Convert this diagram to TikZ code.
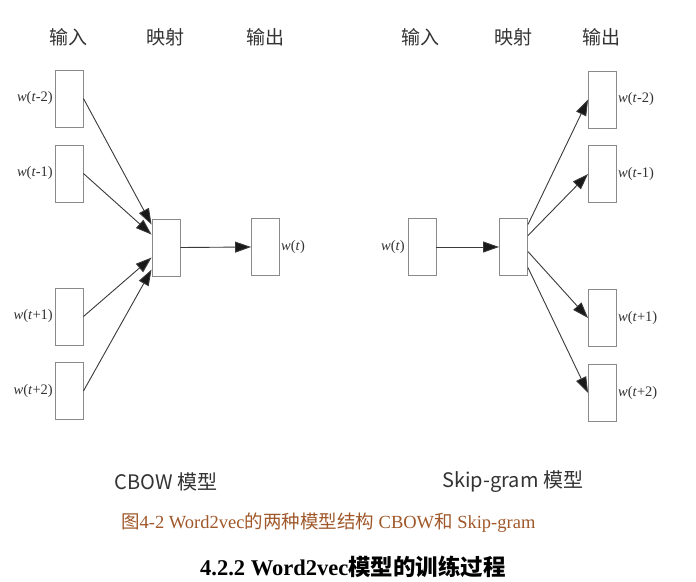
\documentclass[tikz,border=0pt]{standalone}
\usepackage{fontspec}
\setmainfont{Liberation Serif}
\newfontfamily\cjk{Noto Sans CJK SC}
\usetikzlibrary{arrows.meta}
\definecolor{boxc}{HTML}{8A8A8A}
\definecolor{linec}{HTML}{3A3A3A}
\definecolor{capc}{HTML}{A0582A}
\tikzset{
  wbox/.style={draw=boxc, line width=0.9pt, minimum width=28pt, minimum height=57pt, inner sep=0pt},
  arr/.style={draw=linec, line width=0.9pt, -{Triangle[length=16pt,width=11pt,fill=black!90]}},
  hdr/.style={font=\cjk\fontsize{19}{19}\selectfont, text=black!80},
  wlab/.style={font=\fontsize{14.5}{15}\selectfont, text=black!80, inner sep=1pt},
  model/.style={font=\cjk\fontsize{20}{20}\selectfont, text=black!80},
}
\newcommand{\wl}[1]{\textit{w}(\textit{t}#1)}
\begin{document}
\begin{tikzpicture}[x=1pt,y=-1pt]
\useasboundingbox (0,0) rectangle (696,581);
\fill[white] (0,0) rectangle (696,581);
% headers
\node[hdr] (h1) at (68,37) {输入};
\node[hdr] (h2) at (165,37) {映射};
\node[hdr] (h3) at (265,37) {输出};
\node[hdr] (h4) at (420,37) {输入};
\node[hdr] (h5) at (513,37) {映射};
\node[hdr] (h6) at (601,37) {输出};
% CBOW
\node[wbox] (i1) at (69,98.5) {};
\node[wbox] (i2) at (69,173.5) {};
\node[wbox] (i3) at (69,316.5) {};
\node[wbox] (i4) at (69,391) {};
\node[wbox] (m1) at (166,247.5) {};
\node[wbox] (o1) at (265.5,247) {};
\node[wlab, anchor=east] (li1) at (54,98.5) {\wl{-2}};
\node[wlab, anchor=east] (li2) at (54,173.5) {\wl{-1}};
\node[wlab, anchor=east] (li3) at (54,316.5) {\wl{+1}};
\node[wlab, anchor=east] (li4) at (54,391) {\wl{+2}};
\node[wlab, anchor=west] (lo1) at (280,247) {\wl{}};
\draw[arr] (i1.east) -- ([yshift=-6pt]m1.north west);
\draw[arr] (i2.east) -- ([yshift=-16pt]m1.north west);
\draw[arr] (i3.east) -- ([yshift=-39pt]m1.north west);
\draw[arr] (i4.east) -- ([yshift=-51pt]m1.north west);
\draw[arr] (m1.east) -- (o1.west);
% Skip-gram
\node[wbox] (ri) at (422,247) {};
\node[wbox] (rm) at (513.5,247) {};
\node[wbox] (ro1) at (602.5,99.5) {};
\node[wbox] (ro2) at (602.5,174) {};
\node[wbox] (ro3) at (602.5,318) {};
\node[wbox] (ro4) at (602.5,393) {};
\node[wlab, anchor=east] (lri) at (406,247) {\wl{}};
\node[wlab, anchor=west] (lro1) at (617,99.5) {\wl{-2}};
\node[wlab, anchor=west] (lro2) at (617,174) {\wl{-1}};
\node[wlab, anchor=west] (lro3) at (617,318) {\wl{+1}};
\node[wlab, anchor=west] (lro4) at (617,393) {\wl{+2}};
\draw[arr] (ri.east) -- (rm.west);
\draw[arr] ([yshift=-6.5pt]rm.north east) -- (ro1.west);
\draw[arr] ([yshift=-17.5pt]rm.north east) -- (ro2.west);
\draw[arr] ([yshift=-33.5pt]rm.north east) -- (ro3.west);
\draw[arr] ([yshift=-49.5pt]rm.north east) -- (ro4.west);
% model names
\node[model, anchor=west] (n1) at (111,482) {CBOW 模型};
\node[model, anchor=west] (n2) at (439,482) {Skip-gram 模型};
% caption
\node[anchor=west, text=capc, font=\fontsize{18.5}{18.5}\selectfont, inner sep=0pt] (cap) at (121,523)
  {{\cjk 图}4-2 Word2vec{\cjk 的两种模型结构} CBOW{\cjk 和} Skip-gram};
\node[anchor=west, font=\bfseries\fontsize{22.5}{22.5}\selectfont, inner sep=0pt] (sec) at (200,567)
  {4.2.2 Word2vec{\cjk\bfseries 模型的训练过程}};
\end{tikzpicture}
\end{document}
